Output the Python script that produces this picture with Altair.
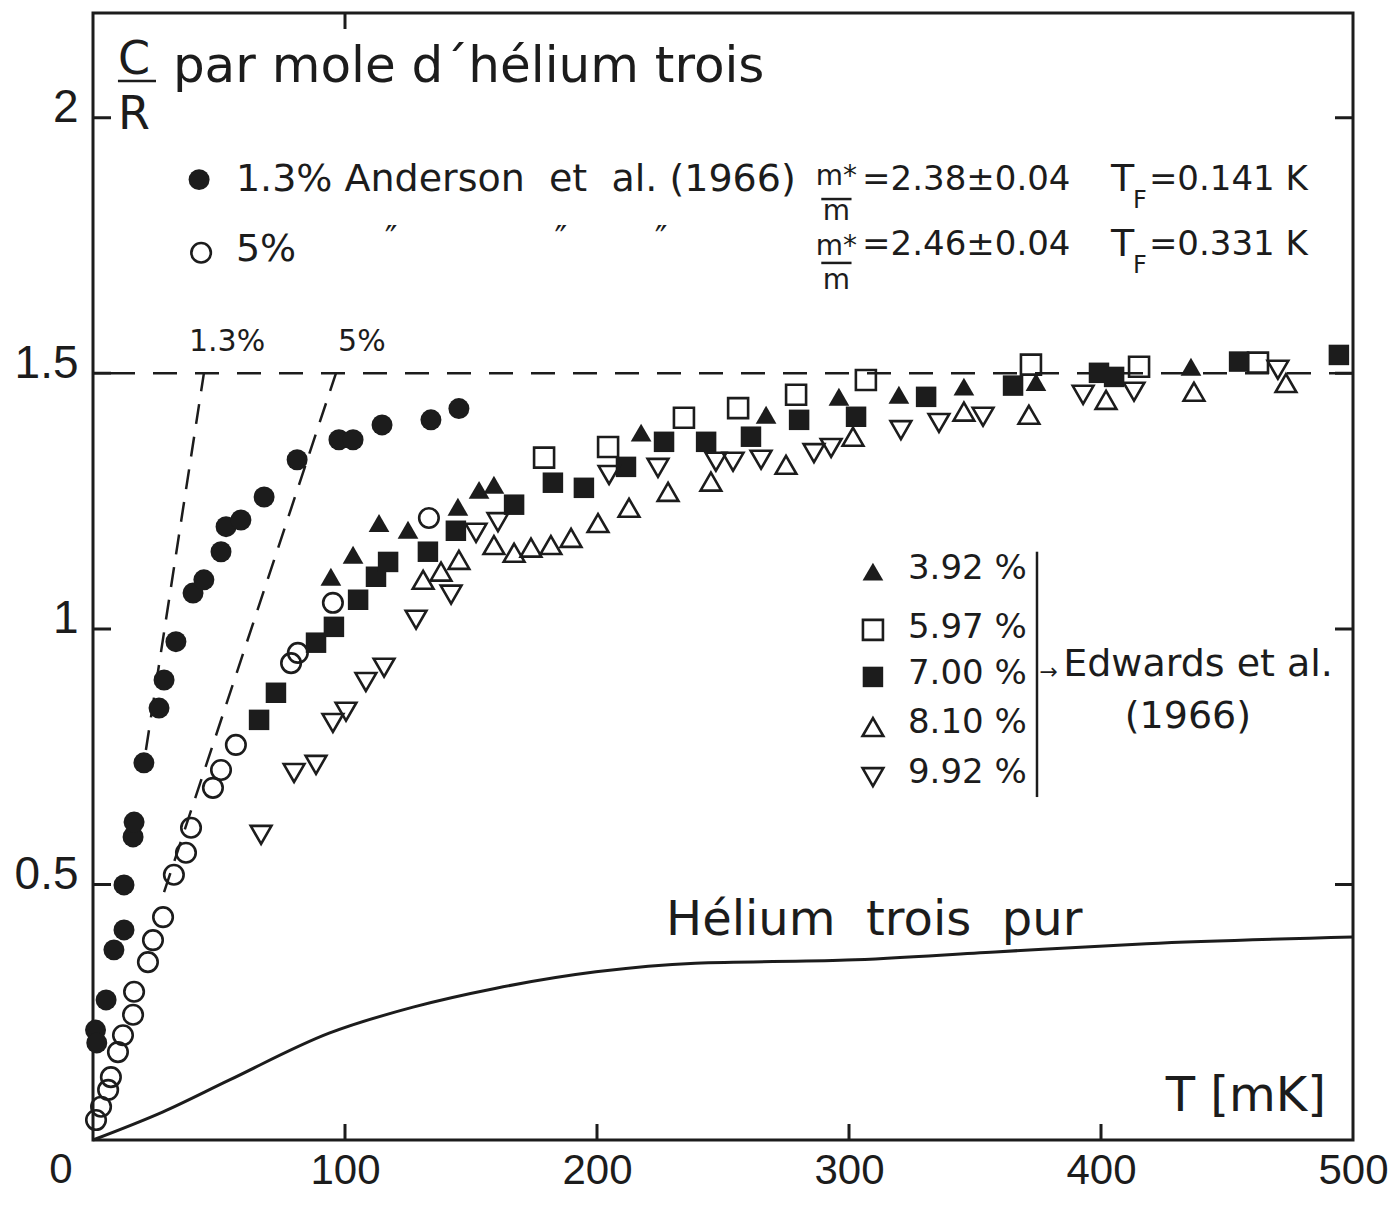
import altair as alt
import pandas as pd

W, H = 1260, 1127
X_MAX = 500
Y_MAX = 2.205
TICK_FONT = "Liberation Sans"
TEXT_FONT = "DejaVu Sans"
INK = "#1c1c1c"

x_ticks = [0, 100, 200, 300, 400, 500]
y_ticks = [0.5, 1, 1.5, 2]

# Anderson et al. (1966), 1.3 %
a13_T = [1.0, 1.5, 5.2, 8.3, 12.3, 12.3, 15.9, 16.3, 20.2, 26.2, 28.2, 32.9, 39.7, 44.0,
         50.8, 52.8, 58.7, 67.9, 81.0, 97.6, 103.2, 114.7, 134.1, 145.2]
a13_C = [0.215, 0.19, 0.274, 0.372, 0.411, 0.499, 0.593, 0.622, 0.738, 0.845, 0.900, 0.975,
         1.070, 1.096, 1.151, 1.200, 1.213, 1.258, 1.331, 1.370, 1.370, 1.399, 1.409, 1.431]
# Anderson et al. (1966), 5 %
a5_T = [1.2, 3.2, 6.0, 7.1, 9.9, 11.9, 15.9, 16.3, 21.8, 23.8, 27.8, 32.1, 36.9, 38.9,
        47.6, 50.8, 56.7, 78.6, 81.3, 95.2, 133.3]
a5_C = [0.039, 0.065, 0.098, 0.123, 0.172, 0.205, 0.245, 0.290, 0.348, 0.391, 0.436, 0.519,
        0.562, 0.611, 0.689, 0.724, 0.773, 0.933, 0.953, 1.051, 1.217]
# Edwards et al. (1966)
e392_T = [94.4, 103.2, 113.5, 125.0, 144.8, 153.2, 159.1, 217.5, 267.1, 296.0, 319.8, 345.6, 374.2, 435.7]
e392_C = [1.102, 1.145, 1.207, 1.194, 1.239, 1.272, 1.282, 1.384, 1.419, 1.454, 1.458, 1.474, 1.483, 1.513]
e597_T = [179.0, 204.4, 234.5, 256.0, 279.0, 306.7, 372.2, 415.1, 462.3]
e597_C = [1.335, 1.356, 1.413, 1.432, 1.458, 1.487, 1.517, 1.513, 1.521]
e700_T = [65.9, 72.6, 88.5, 95.6, 105.2, 112.3, 117.1, 132.9, 144.0, 167.1, 182.5, 194.8,
          211.5, 226.6, 243.3, 261.1, 280.2, 302.8, 330.6, 365.1, 399.2, 405.2, 454.8, 494.4]
e700_C = [0.822, 0.875, 0.973, 1.004, 1.057, 1.102, 1.131, 1.151, 1.192, 1.243, 1.286, 1.276,
          1.317, 1.366, 1.366, 1.376, 1.409, 1.415, 1.454, 1.476, 1.501, 1.493, 1.523, 1.536]
e810_T = [131.0, 138.1, 145.2, 159.1, 167.1, 173.8, 181.7, 189.7, 200.4, 212.7, 228.2, 245.2,
          275.0, 301.6, 345.6, 371.4, 402.0, 436.9, 473.4]
e810_C = [1.096, 1.112, 1.135, 1.164, 1.149, 1.159, 1.164, 1.178, 1.207, 1.237, 1.268, 1.288,
          1.321, 1.376, 1.425, 1.419, 1.448, 1.464, 1.481]
e992_T = [66.7, 79.8, 88.5, 95.2, 100.4, 108.3, 115.5, 128.2, 142.1, 152.0, 160.7, 204.8,
          224.2, 247.2, 254.0, 265.1, 286.1, 292.9, 320.6, 335.7, 353.2, 392.9, 413.1, 470.2]
e992_C = [0.597, 0.718, 0.734, 0.816, 0.838, 0.896, 0.924, 1.018, 1.067, 1.188, 1.209, 1.301,
          1.315, 1.327, 1.327, 1.331, 1.344, 1.354, 1.389, 1.403, 1.415, 1.458, 1.464, 1.507]

# pure helium-3 curve
he_T = [0, 27.8, 54.0, 93.7, 127.0, 160.0, 199.6, 239.0, 299.0, 358.0, 418.0, 500.0]
he_C = [0, 0.055, 0.117, 0.209, 0.260, 0.297, 0.329, 0.346, 0.352, 0.368, 0.384, 0.397]

# dashed degenerate-gas lines (end points)
th13_T = [21.0, 44.0]
th13_C = [0.763, 1.5]
th5_T = [28.2, 96.4]
th5_C = [0.485, 1.5]

xs = alt.Scale(domain=[0, X_MAX], nice=False, zero=False)
ys = alt.Scale(domain=[0, Y_MAX], nice=False, zero=False)
xa = alt.Axis(values=x_ticks, tickSize=0, domain=False, grid=False, title=None,
              labelFont=TICK_FONT, labelFontSize=42, labelPadding=10, labelColor=INK,
              labelFlush=False,
              labelExpr="datum.value == 0 ? '' : datum.label")
ya = alt.Axis(values=y_ticks, tickSize=0, domain=False, grid=False, title=None,
              labelFont=TICK_FONT, labelFontSize=46, labelPadding=15, labelColor=INK,
              labelOffset=-10, labelExpr="'' + datum.value")
X = alt.X("x:Q", scale=xs, axis=xa)
Y = alt.Y("y:Q", scale=ys, axis=ya)

layers = []

# pure He3 curve
layers.append(alt.Chart(pd.DataFrame({"x": he_T, "y": he_C})).mark_line(
    color=INK, strokeWidth=3, interpolate="monotone").encode(x=X, y=Y))

# horizontal dashed line at 1.5
layers.append(alt.Chart(pd.DataFrame({"y": [1.5]})).mark_rule(
    color=INK, strokeWidth=2.5, strokeDash=[24, 18]).encode(y=Y))

# dashed theory lines
th = pd.DataFrame({"x": th13_T + th5_T, "y": th13_C + th5_C,
                   "g": ["1.3"] * 2 + ["5"] * 2})
layers.append(alt.Chart(th).mark_line(color=INK, strokeWidth=2.5, strokeDash=[20, 13]).encode(
    x=X, y=Y, detail="g:N"))

# series: data + legend symbol position
series = [
    (a13_T, a13_C, 42.1, 1.879, "circle", True, 440),
    (a5_T, a5_C, 42.9, 1.736, "circle", False, 380),
    (e392_T, e392_C, 309.5, 1.112, "triangle-up", True, 430),
    (e597_T, e597_C, 309.5, 0.998, "square", False, 400),
    (e700_T, e700_C, 309.5, 0.906, "square", True, 420),
    (e810_T, e810_C, 309.5, 0.808, "triangle-up", False, 430),
    (e992_T, e992_C, 309.5, 0.710, "triangle-down", False, 430),
]
for T, C, lx, ly, shape, filled, size in series:
    df = pd.DataFrame({"x": list(T) + [lx], "y": list(C) + [ly]})
    layers.append(alt.Chart(df).mark_point(
        shape=shape, filled=filled, size=size, color=INK, strokeWidth=2.6, opacity=1
    ).encode(x=X, y=Y))

# inward tick marks on the frame
tick_l = pd.DataFrame({"x": [0] * 4, "y": y_ticks})
tick_r = pd.DataFrame({"x": [X_MAX] * 4, "y": y_ticks})
tick_b = pd.DataFrame({"x": [100, 200, 300, 400], "y": [0] * 4})
tick_t = pd.DataFrame({"x": [100], "y": [Y_MAX]})
for df in (tick_l, tick_r):
    layers.append(alt.Chart(df).mark_tick(orient="horizontal", size=36, thickness=3,
                                          color=INK, clip=True, opacity=1).encode(x=X, y=Y))
for df in (tick_b, tick_t):
    layers.append(alt.Chart(df).mark_tick(orient="vertical", size=32, thickness=3,
                                          color=INK, clip=True, opacity=1).encode(x=X, y=Y))

# rules: fraction bars and Edwards bracket
rules = pd.DataFrame({
    "x": [9.9, 289.0, 289.0, 374.6],
    "x2": [25.0, 301.0, 301.0, 374.6],
    "y": [2.072, 1.841, 1.716, 1.151],
    "y2": [2.072, 1.841, 1.716, 0.671],
})
layers.append(alt.Chart(rules).mark_rule(color=INK, strokeWidth=2.5).encode(
    x=X, x2="x2:Q", y=Y, y2="y2:Q"))

# text annotations
txt_left = pd.DataFrame([
    ("par mole d\u00b4h\u00e9lium trois", 31.7, 2.100, 50),
    ("1.3% Anderson\u00a0 et\u00a0 al. (1966)", 56.7, 1.879, 38),
    ("5%", 56.7, 1.742, 38),
    ("=2.38\u00b10.04", 305.2, 1.879, 34),
    ("=2.46\u00b10.04", 305.2, 1.751, 34),
    ("T", 404.0, 1.879, 38),
    ("F", 412.7, 1.838, 24),
    ("=0.141 K", 419.0, 1.879, 34),
    ("T", 404.0, 1.751, 38),
    ("F", 412.7, 1.710, 24),
    ("=0.331 K", 419.0, 1.751, 34),
    ("3.92 %", 323.4, 1.117, 34),
    ("5.97 %", 323.4, 1.002, 34),
    ("7.00 %", 323.4, 0.912, 34),
    ("8.10 %", 323.4, 0.816, 34),
    ("9.92 %", 323.4, 0.718, 34),
    ("\u2192", 375.6, 0.916, 22),
    ("Edwards et al.", 385.0, 0.930, 38),
    ("H\u00e9lium\u00a0 trois\u00a0 pur", 227.4, 0.429, 48),
], columns=["text", "x", "y", "fs"])
txt_center = pd.DataFrame([
    ("C", 16.3, 2.114, 46),
    ("R", 16.3, 2.006, 46),
    ("m*", 295.0, 1.885, 28),
    ("m", 295.0, 1.815, 28),
    ("m*", 295.0, 1.747, 28),
    ("m", 295.0, 1.680, 28),
    ("\u2033", 118.3, 1.761, 34),
    ("\u2033", 185.7, 1.761, 34),
    ("\u2033", 225.4, 1.761, 34),
    ("1.3%", 53.2, 1.562, 30),
    ("5%", 106.7, 1.562, 30),
    ("(1966)", 434.5, 0.828, 38),
], columns=["text", "x", "y", "fs"])
txt_right = pd.DataFrame([
    ("T [mK]", 489.3, 0.084, 48),
], columns=["text", "x", "y", "fs"])

for df, al in ((txt_left, "left"), (txt_center, "center"), (txt_right, "right")):
    layers.append(alt.Chart(df).mark_text(align=al, baseline="middle", font=TEXT_FONT,
                                          color=INK).encode(
        x=X, y=Y, text="text:N", size=alt.Size("fs:Q", scale=None)))

# the "0" tick label of the T axis sits left of the origin in the original
zero_lbl = pd.DataFrame({"text": ["0"], "x": [-12.7], "y": [0]})
layers.append(alt.Chart(zero_lbl).mark_text(
    align="center", baseline="top", dy=10, font=TICK_FONT, fontSize=42, color=INK
).encode(x=X, y=Y, text="text:N"))

chart = alt.layer(*layers).properties(
    width=W, height=H,
    padding={"left": 85, "top": 5, "right": 35, "bottom": 57},
    autosize=alt.AutoSizeParams(type="none"),
    background="white",
).configure_view(stroke=INK, strokeWidth=3)

chart.save("out.html", embed_options={"renderer": "svg", "actions": False})
